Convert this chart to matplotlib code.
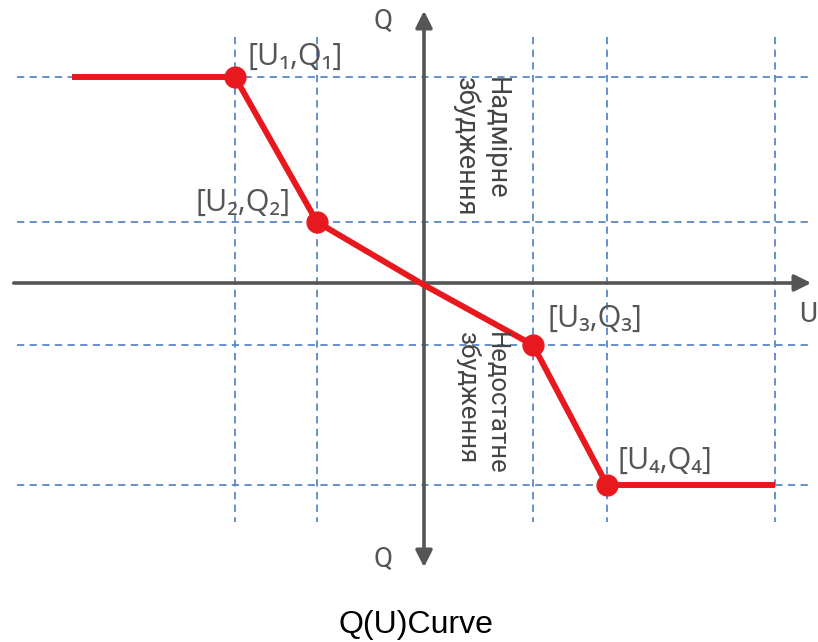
import matplotlib
matplotlib.use("Agg")
import matplotlib.pyplot as plt

# Q(U) characteristic, breakpoints in drawing units (U right, Q up)
curve_u = [-352, -189, -107, 0, 109, 183, 351]
curve_q = [208, 208, 63, 0, -60, -200, -200]
point_idx = [1, 2, 4, 5]
point_labels = ["[U₁,Q₁]", "[U₂,Q₂]", "[U₃,Q₃]", "[U₄,Q₄]"]

grid_u = [-189, -107, 109, 183, 351]
grid_q = [208, 63, -60, -200]

region_labels = ["Надмірне\nзбудження", "Недостатне\nзбудження"]
title = "Q(U)Curve"

red = "#e8191e"
axis_col = "#555555"
grid_col = "#5b87c9"
fam = ["Roboto", "DejaVu Sans"]
lab_fam = ["Open Sans", "DejaVu Sans"]

fig = plt.figure(figsize=(8.18, 6.42), dpi=100)
ax = fig.add_axes([0, 0, 1, 1])
ax.set_xlim(-424, 394)
ax.set_ylim(-357, 285)
ax.axis("off")

# dashed guide grid
for u in grid_u:
    ax.plot([u, u], [248, -237], ls=(0, (4, 3)), lw=1.3, color=grid_col, zorder=1)
for q in grid_q:
    ax.plot([-407, 386], [q, q], ls=(0, (4, 3)), lw=1.3, color=grid_col, zorder=1)

# axes with arrows
arrow = dict(arrowstyle="-|>,head_length=1.0,head_width=0.5", lw=2.6, color=axis_col)
ax.annotate("", xy=(390, 2), xytext=(-413, 2), arrowprops=arrow, zorder=2)
ax.annotate("", xy=(0, 277), xytext=(0, 2), arrowprops=arrow, zorder=2)
ax.annotate("", xy=(0, -285), xytext=(0, 2), arrowprops=arrow, zorder=2)

ax.text(-41, 264, "Q", fontsize=20, color=axis_col, family=fam, ha="center", va="center")
ax.text(-41, -274, "Q", fontsize=20, color=axis_col, family=fam, ha="center", va="center")
ax.text(384, -29, "U", fontsize=20, color=axis_col, family=fam, ha="center", va="center")

# curve
ax.plot(curve_u, curve_q, color=red, lw=4.3, solid_capstyle="butt", zorder=3)
ax.plot([curve_u[i] for i in point_idx], [curve_q[i] for i in point_idx],
        "o", ms=15, color=red, zorder=4)

offsets = [(-176, 228, "left"), (-133, 82, "right"), (124, -34, "left"), (194, -176, "left")]
for (x, y, ha), lab in zip(offsets, point_labels):
    ax.text(x, y, lab, fontsize=22, color=axis_col, family=lab_fam, ha=ha, va="center")

ax.text(57, 208, region_labels[0], fontsize=19.5, color="#444444", family=fam,
        rotation=-90, ha="center", va="top", multialignment="left", linespacing=1.15)
ax.text(57, -47, region_labels[1], fontsize=18.5, color="#444444", family=fam,
        rotation=-90, ha="center", va="top", multialignment="left", linespacing=1.2)

ax.text(-8, -340, title, fontsize=23, color="black", family="Liberation Sans",
        ha="center", va="center")

fig.savefig("out.png", dpi=100, facecolor="white")
